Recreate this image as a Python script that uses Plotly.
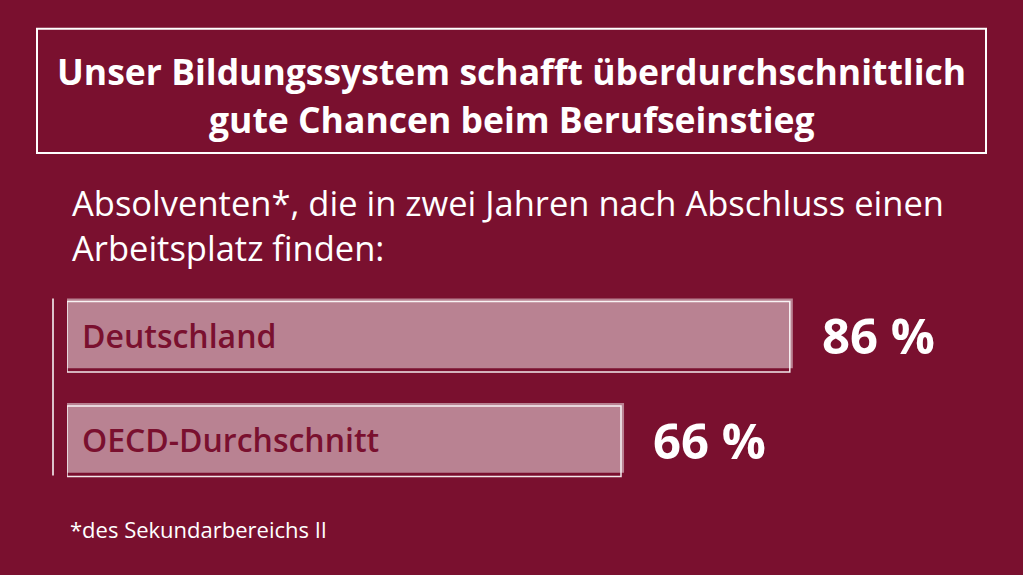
import plotly.graph_objects as go

categories = ["Deutschland", "OECD-Durchschnitt"]
values = [86, 66]
value_labels = ["86 %", "66 %"]
title_lines = ["Unser Bildungssystem schafft überdurchschnittlich", "gute Chancen beim Berufseinstieg"]
subtitle_lines = ["Absolventen*, die in zwei Jahren nach Abschluss einen", "Arbeitsplatz finden:"]
footnote = "*des Sekundarbereichs II"

BG = "#7a102f"
FONT = "Open Sans"
W, H = 1023, 575
L, R, T, B = 67, 112, 282.5, 82.5
PW, PH = W - L - R, H - T - B

def px_x(px):
    return (px - L) / PW

def px_y(py):
    return (H - B - py) / PH

pos = list(range(len(categories)))

fig = go.Figure()
# filled bars
fig.add_trace(go.Bar(
    y=pos, x=values, orientation="h", width=0.667, offset=-0.352,
    marker=dict(color="rgba(255,255,255,0.48)", line=dict(width=0)),
    hoverinfo="skip", showlegend=False,
))
# offset outline
fig.add_trace(go.Bar(
    y=pos, x=[v - 0.36 for v in values], orientation="h", width=0.676, offset=-0.324,
    marker=dict(color="rgba(0,0,0,0)", line=dict(width=1.5, color="rgba(255,255,255,0.9)")),
    hoverinfo="skip", showlegend=False,
))

annotations = []
for p, c, v, lab in zip(pos, categories, values, value_labels):
    annotations.append(dict(x=0, y=p, xref="x", yref="y", text=c, showarrow=False,
                            xanchor="left", yanchor="middle", xshift=13, yshift=0,
                            font=dict(family=FONT, size=32, color="#7a102f", weight=600)))
    annotations.append(dict(x=v, y=p, xref="x", yref="y", text=lab, showarrow=False,
                            xanchor="left", yanchor="middle", xshift=27,
                            font=dict(family=FONT, size=49, color="white", weight=700)))

for line, yc in zip(title_lines, [69, 118]):
    annotations.append(dict(x=px_x(511.5), y=px_y(yc), xref="paper", yref="paper",
                            text=line, showarrow=False,
                            xanchor="center", yanchor="middle", align="center",
                            font=dict(family=FONT, size=35.5, color="white", weight=700)))
for line, yc in zip(subtitle_lines, [202, 247]):
    annotations.append(dict(x=px_x(70), y=px_y(yc), xref="paper", yref="paper",
                            text=line, showarrow=False,
                            xanchor="left", yanchor="middle", align="left",
                            font=dict(family=FONT, size=34.5, color="white")))
annotations.append(dict(x=px_x(68), y=px_y(530), xref="paper", yref="paper",
                        text=footnote, showarrow=False,
                        xanchor="left", yanchor="middle", align="left",
                        font=dict(family=FONT, size=22, color="white")))

shapes = [
    dict(type="rect", xref="paper", yref="paper",
         x0=px_x(37), x1=px_x(986), y0=px_y(152), y1=px_y(27),
         line=dict(color="white", width=2), fillcolor="rgba(0,0,0,0)"),
    dict(type="line", xref="paper", yref="y",
         x0=px_x(53), x1=px_x(53), y0=-0.352, y1=1.343,
         line=dict(color="white", width=1.5)),
]

fig.update_layout(
    width=W, height=H,
    margin=dict(l=L, r=R, t=T, b=B),
    paper_bgcolor=BG, plot_bgcolor=BG,
    barmode="overlay",
    xaxis=dict(range=[0, 100], visible=False, fixedrange=True),
    yaxis=dict(range=[1.5, -0.5], visible=False, fixedrange=True),
    annotations=annotations, shapes=shapes,
)
fig.update_traces(cliponaxis=False)

fig.write_html(
    "out.html",
    config={"displayModeBar": False},
    post_script="document.body.style.margin='0';document.body.style.overflow='hidden';document.body.style.background='" + BG + "';",
)
